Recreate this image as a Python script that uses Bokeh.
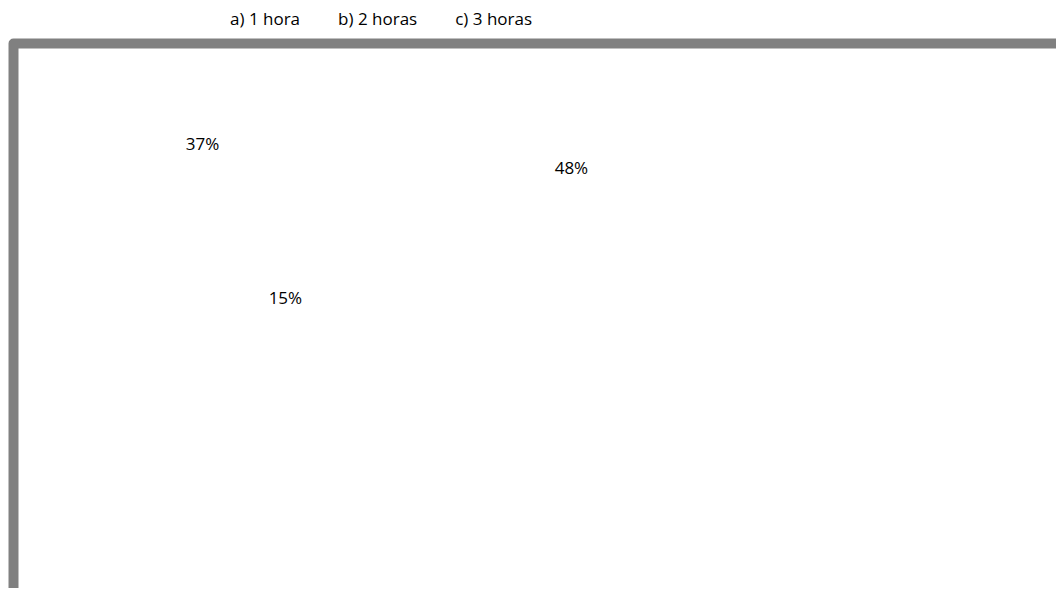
import numpy as np
from bokeh.plotting import figure
from bokeh.models import ColumnDataSource, Range1d, Legend, LegendItem
from bokeh.core.properties import value
from bokeh.embed import file_html
from bokeh.resources import INLINE

# ---- data ----
categories = ["a) 1 hora", "b) 2 horas", "c) 3 horas"]
percents = [37, 48, 15]

# ---- layout / style ----
W, H = 1056, 588
cx, cy = 320, 190          # pie centre (px, y down)
pie_r = 170
start_deg = 225.1          # clockwise from 12 o'clock
label_r = [127, 252, 113]  # radial distance of each data label
FONT = "Open Sans"

vals = np.array(percents, dtype=float)
frac = vals / vals.sum()
cum = np.cumsum(frac)
start_cw = start_deg + 360 * (cum - frac)
end_cw = start_deg + 360 * cum
mid_cw = np.radians((start_cw + end_cw) / 2)
lx = cx + np.array(label_r) * np.sin(mid_cw)
ly = cy - np.array(label_r) * np.cos(mid_cw)

src = ColumnDataSource(dict(
    cat=categories,
    pct=[f"{v}%" for v in percents],
    start=np.radians(90 + start_cw),   # y axis is inverted, so clockwise on screen
    end=np.radians(90 + end_cw),
    lx=lx, ly=ly,
))

p = figure(width=W, height=H, output_backend="svg", toolbar_location=None,
           x_range=Range1d(0, W), y_range=Range1d(H, 0), min_border=0)
p.axis.visible = False
p.grid.visible = False
p.outline_line_color = None
p.background_fill_color = "white"
p.border_fill_color = "white"

# pie wedges (invisible, as in the reference)
wed = p.annular_wedge(x=cx, y=cy, inner_radius=0, outer_radius=pie_r,
                      start_angle="start", end_angle="end", direction="anticlock",
                      fill_color="white", fill_alpha=0, line_alpha=0, source=src)

# chart frame (rounded gray border, cropped at right/bottom)
p.quad(left=13, right=W + 60, top=43, bottom=H + 60, fill_color=None,
       line_color="#808080", line_width=10, line_join="round")

# data labels
p.text(x="lx", y="ly", text="pct", source=src, text_align="center",
       text_baseline="middle", text_font=value(FONT), text_font_size="17px",
       text_color="#000000")

items = [LegendItem(label=c, renderers=[wed], index=i) for i, c in enumerate(categories)]
legend = Legend(items=items, orientation="horizontal", location=(202, 558),
                padding=0, margin=0, spacing=10, glyph_width=20, glyph_height=24,
                label_standoff=8, label_height=24,
                label_text_font=FONT, label_text_font_size="17px",
                label_text_color="#000000", border_line_color=None,
                background_fill_alpha=0)
p.add_layout(legend, "center")

open("out.html", "w").write(file_html(p, INLINE))
